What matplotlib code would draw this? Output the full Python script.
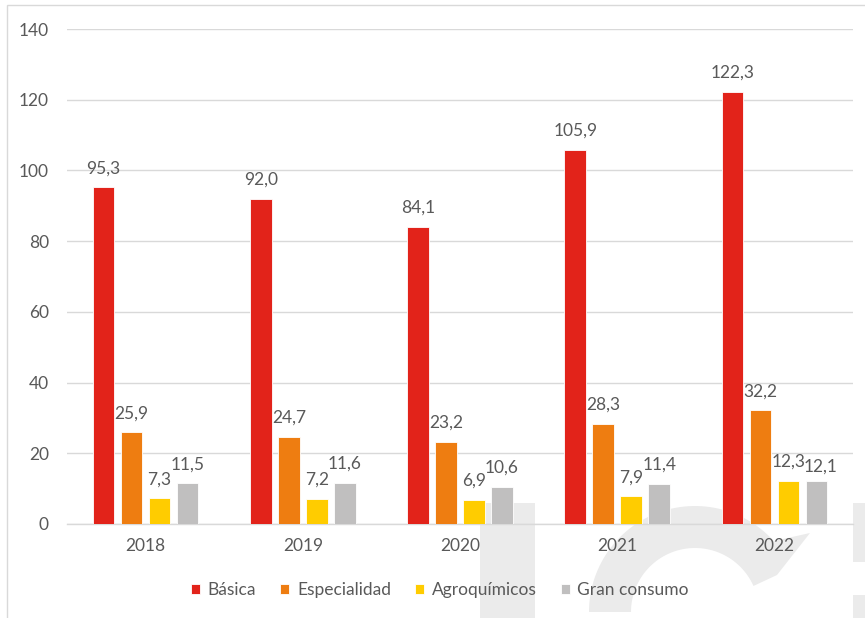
import matplotlib
matplotlib.use("Agg")
import matplotlib.pyplot as plt
from matplotlib.patches import Polygon, Rectangle
import numpy as np

plt.rcParams['font.family'] = ['Lato', 'DejaVu Sans']

years = ["2018", "2019", "2020", "2021", "2022"]
series_names = ["Básica", "Especialidad", "Agroquímicos", "Gran consumo"]
basica = [95.3, 92.0, 84.1, 105.9, 122.3]
especialidad = [25.9, 24.7, 23.2, 28.3, 32.2]
agroquimicos = [7.3, 7.2, 6.9, 7.9, 12.3]
gran_consumo = [11.5, 11.6, 10.6, 11.4, 12.1]
colors = ["#e2231a", "#ee7d11", "#ffcc00", "#c0bfbf"]
y_ticks = [0, 20, 40, 60, 80, 100, 120, 140]

W, H = 865, 618
fig = plt.figure(figsize=(W / 100, H / 100), dpi=100)
text_color = "#595959"
grid_color = "#d9d9d9"
fs = 12.5


def px(x, y):
    return (x / W, 1 - y / H)


# faint logo watermark behind the chart
wm = "#ebebeb"


def add_poly(points):
    fig.patches.append(Polygon([px(a, b) for a, b in points], closed=True,
                               transform=fig.transFigure, facecolor=wm,
                               edgecolor="none", zorder=-2))


add_poly([(480, 503), (535, 503), (535, 618), (480, 618)])
cx, cy = 695, 612
t_out = np.radians(np.linspace(180, 42, 60))
t_in = np.radians(np.linspace(24, 180, 60))
outer = [(cx + 106 * np.cos(t), cy - 106 * np.sin(t)) for t in t_out]
inner = [(cx + 64 * np.cos(t), cy - 64 * np.sin(t)) for t in t_in]
add_poly(outer + [(810, 533), (777, 575)] + inner)
add_poly([(853, 503), (870, 503), (870, 562), (853, 562)])
add_poly([(853, 595), (870, 595), (870, 620), (853, 620)])

# chart border
fig.patches.append(Rectangle(px(7.5, 640), 900 / W, (640 - 5.5) / H, transform=fig.transFigure,
                             facecolor="none", edgecolor=grid_color, linewidth=1, zorder=-1))

ax = fig.add_axes([67 / W, (H - 524) / H, (853 - 67) / W, (524 - 29) / H])
ax.patch.set_alpha(0)

x = np.arange(len(years))
slot = 0.178
width = 0.137
all_series = [basica, especialidad, agroquimicos, gran_consumo]
# label nudges (points) where neighbouring labels would collide
nudges = {(3, 4): (3, -3)}
for i, (name, vals, col) in enumerate(zip(series_names, all_series, colors)):
    pos = x + (i - 1.5) * slot
    ax.bar(pos, vals, width=width, color=col, edgecolor="white", linewidth=0.6,
           label=name, zorder=3)
    for j, (xp, v) in enumerate(zip(pos, vals)):
        dx, dy = nudges.get((i, j), (0, 0))
        ax.annotate(f"{v:.1f}".replace(".", ","), (xp, v), xytext=(dx, 10 + dy),
                    textcoords="offset points", ha="center", va="baseline",
                    fontsize=fs, color=text_color, zorder=4)

ax.set_xlim(-0.5, len(years) - 0.5)
ax.set_ylim(0, 140)
ax.set_yticks(y_ticks)
ax.set_xticks(x)
ax.set_xticklabels(years)
ax.yaxis.grid(True, color=grid_color, linewidth=1, zorder=0)
ax.set_axisbelow(True)
for s in ["top", "right", "left"]:
    ax.spines[s].set_visible(False)
ax.spines["bottom"].set_color(grid_color)
ax.spines["bottom"].set_linewidth(1)
ax.tick_params(axis="both", length=0, labelsize=fs, labelcolor=text_color)
ax.tick_params(axis="y", pad=13)
ax.tick_params(axis="x", pad=10)

ax.legend(loc="center", bbox_to_anchor=px(440, 590), bbox_transform=fig.transFigure,
          ncol=4, frameon=False, fontsize=fs, handlelength=0.5, handleheight=0.5,
          handletextpad=0.45, columnspacing=1.4, labelcolor=text_color)

fig.savefig("out.png", dpi=100)
